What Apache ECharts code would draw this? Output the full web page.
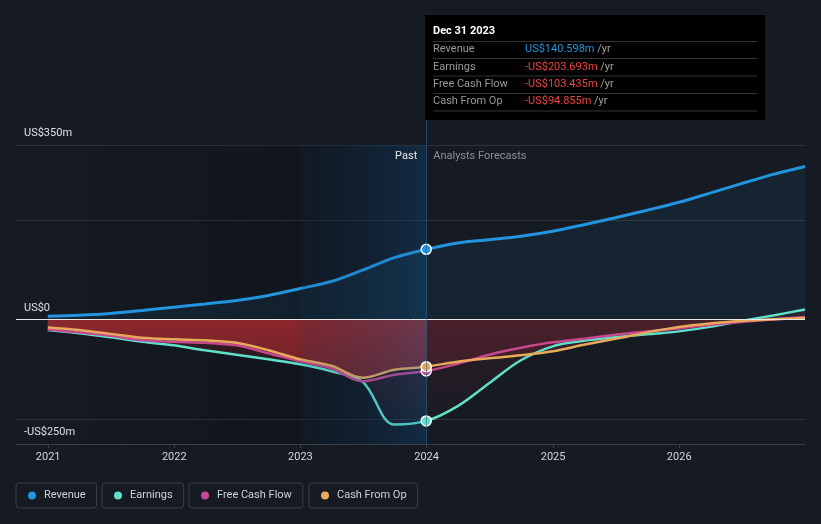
<!DOCTYPE html>
<html><head><meta charset="utf-8">
<script src="https://cdn.jsdelivr.net/npm/echarts@6/dist/echarts.min.js"></script>
<style>html,body{margin:0;padding:0;background:#151a23;}#c{width:821px;height:524px;}</style>
</head><body><div id="c"></div>
<script>
// ---- data ----
const pastDates = ['2020-12-31','2021-03-31','2021-06-30','2021-09-30','2021-12-31','2022-03-31','2022-06-30','2022-09-30','2022-12-31','2023-03-31','2023-06-30','2023-09-30','2023-12-31'];
const forecastDates = ['2023-12-31','2024-03-31','2024-06-30','2024-09-30','2024-12-31','2025-03-31','2025-06-30','2025-09-30','2025-12-31','2026-03-31','2026-06-30','2026-09-30','2026-12-31'];
const revenuePast  = [6.6, 8.5, 12, 18, 24.5, 31, 38, 48, 62, 76, 99, 124, 140.598];
const earningsPast = [-21.5, -28, -36, -45, -52, -62, -71, -80, -90, -104, -125, -211, -203.693];
const fcfPast      = [-20, -26, -33, -42, -45, -47, -52, -68, -84, -98, -124, -111, -103.435];
const cfoPast      = [-16, -21, -29, -37, -40, -42, -47, -62, -80, -93, -117, -101, -94.855];
const revenueForecast  = [140.598, 153.5, 160, 167, 177, 190, 204, 219, 235, 253.5, 272.5, 291, 307];
const earningsForecast = [-203.693, -174, -128, -82, -54, -43, -36, -30, -24, -15, -3, 8, 20];
const fcfForecast      = [-103.435, -89, -71, -57, -46, -39, -31, -24, -18, -11, -5, 0, 5];
const cfoForecast      = [-94.855, -85, -78, -72, -64, -51, -39, -26, -15, -8, -3, 0.5, 3];
const seriesNames = ['Revenue', 'Earnings', 'Free Cash Flow', 'Cash From Op'];
const xYears = [2021, 2022, 2023, 2024, 2025, 2026];
const yTickValues = [-250, 0, 350];
const yTickLabels = ['-US$250m', 'US$0', 'US$350m'];
const yGridValues = [-200, 0, 200, 350];
const xRange = ['2020-09-30', '2026-12-31'];
const bandRange = ['2023-01-01', '2024-01-01'];
const pastLabel = 'Past';
const forecastLabel = 'Analysts Forecasts';

// ---- helpers ----
const ts = d => Date.parse(d + 'T00:00:00Z');
const pts = (dates, vals) => dates.map((d, i) => [ts(d), vals[i]]);
const full = (p, f) => pts(pastDates, p).concat(pts(forecastDates, f).slice(1));
const colors = ['#2394df', '#5fe0cb', '#c8478e', '#e9a95b'];
const FONT = 'Roboto, "Noto Sans", sans-serif';
const lastDate = pastDates[pastDates.length - 1];
const SMOOTH = 0.35;

const pastSets = [revenuePast, earningsPast, fcfPast, cfoPast];
const fcSets = [revenueForecast, earningsForecast, fcfForecast, cfoForecast];

function grad(top, bottom) {
  return {type: 'linear', x: 0, y: 0, x2: 0, y2: 1, colorStops: [{offset: 0, color: top}, {offset: 1, color: bottom}]};
}
function hgrad(l, r) {
  return {type: 'linear', x: 0, y: 0, x2: 1, y2: 0, colorStops: [{offset: 0, color: l}, {offset: 1, color: r}]};
}

const series = [];
seriesNames.forEach((name, i) => {
  const last = pastSets[i][pastSets[i].length - 1];
  series.push({
    name, type: 'line', z: 3, smooth: SMOOTH,
    showSymbol: false, symbol: 'none',
    data: full(pastSets[i], fcSets[i]),
    lineStyle: {width: i === 0 ? 3 : 2.5, color: colors[i]},
    itemStyle: {color: colors[i]},
    emphasis: {disabled: true},
    markPoint: {
      silent: true, z: 6,
      symbol: 'circle', symbolSize: 10,
      itemStyle: {color: colors[i], borderColor: '#ffffff', borderWidth: 1.5},
      label: {show: false},
      data: [{coord: [ts(lastDate), last]}]
    }
  });
});
const areaCommon = {type: 'line', z: 2, smooth: SMOOTH, showSymbol: false, symbol: 'none', lineStyle: {width: 0}, emphasis: {disabled: true}, silent: true};
series.push(Object.assign({}, areaCommon, {name: 'Revenue', data: full(revenuePast, revenueForecast), itemStyle: {color: colors[0]}, areaStyle: {color: 'rgba(35,148,223,0.12)'}}));
series.push(Object.assign({}, areaCommon, {name: 'Cash From Op', data: pts(pastDates, cfoPast), itemStyle: {color: colors[3]}, areaStyle: {color: grad('rgba(205,48,52,0.8)', 'rgba(200,48,52,0.62)')}}));
series.push(Object.assign({}, areaCommon, {name: 'Earnings', data: pts(pastDates, earningsPast), itemStyle: {color: colors[1]}, areaStyle: {color: grad('rgba(195,45,50,0.32)', 'rgba(195,45,50,0.04)')}}));
series.push(Object.assign({}, areaCommon, {name: 'Cash From Op', data: pts(forecastDates, cfoForecast), itemStyle: {color: colors[3]}, areaStyle: {color: grad('rgba(180,45,55,0.3)', 'rgba(180,45,55,0.25)')}}));
series.push(Object.assign({}, areaCommon, {name: 'Earnings', data: pts(forecastDates, earningsForecast), itemStyle: {color: colors[1]}, areaStyle: {color: grad('rgba(180,45,55,0.22)', 'rgba(180,45,55,0.05)')}}));
series.push({
  type: 'line', data: [], z: 1, silent: true,
  markArea: {silent: true, z: 1, itemStyle: {color: hgrad('rgba(0,0,0,0)', 'rgba(0,0,0,0.28)')},
    data: [[{xAxis: ts(xRange[0])}, {xAxis: ts(bandRange[1])}]]},
  markLine: {silent: true, symbol: 'none', z: 5, label: {show: false},
    lineStyle: {color: '#e8e8e8', width: 1, type: 'solid'},
    data: [{yAxis: 0}]}
});
series.push({
  type: 'line', data: [], z: 4, silent: true,
  markArea: {silent: true, z: 4, itemStyle: {color: hgrad('rgba(10,60,100,0.1)', 'rgba(30,110,180,0.27)')},
    data: [[{xAxis: ts(bandRange[0])}, {xAxis: ts(bandRange[1])}]]}
});

const splitColors = [];
for (let v = -250; v <= 350; v += 50) {
  splitColors.push(yGridValues.indexOf(v) >= 0 && v !== 0 ? '#2f343c' : 'rgba(0,0,0,0)');
}

const legendLefts = [16, 102, 189, 309];
const legends = seriesNames.map((n, i) => ({
  data: [n], left: legendLefts[i], top: 483, orient: 'horizontal',
  icon: 'circle', itemWidth: 8, itemHeight: 8,
  borderColor: '#3a3f48', borderWidth: 1, borderRadius: 3,
  padding: [6, 11, 6, 12], selectedMode: false,
  textStyle: {color: '#cfd2d7', fontSize: 11, fontFamily: FONT, lineHeight: 13, padding: [0, 0, 0, 3]}
}));

const option = {
  backgroundColor: '#151a23',
  animation: false,
  grid: {left: 16, right: 16, top: 145, bottom: 80},
  xAxis: {
    type: 'value', min: ts(xRange[0]), max: ts(xRange[1]),
    splitLine: {show: false},
    axisLine: {show: true, onZero: false, lineStyle: {color: '#3a3f47', width: 1}},
    axisTick: {show: true, length: 4, lineStyle: {color: '#3a3f47'}, customValues: xYears.map(y => ts(y + '-01-01'))},
    axisLabel: {color: '#d4d7db', fontSize: 11, fontFamily: FONT, margin: 8,
      customValues: xYears.map(y => ts(y + '-01-01')),
      formatter: v => String(new Date(v).getUTCFullYear())}
  },
  yAxis: {
    type: 'value', min: -250, max: 350, interval: 50,
    axisLine: {show: false}, axisTick: {show: false},
    splitLine: {show: true, lineStyle: {color: splitColors, width: 1}},
    axisLabel: {inside: true, margin: 8, color: '#e0e2e5', fontSize: 11, fontFamily: FONT,
      verticalAlign: 'bottom', padding: [0, 0, 6, 0],
      formatter: v => { const k = yTickValues.indexOf(v); return k >= 0 ? yTickLabels[k] : ''; }}
  },
  legend: legends,
  series
};

const chart = echarts.init(document.getElementById('c'), null, {renderer: 'canvas'});
chart.setOption(option);

const x24 = chart.convertToPixel({xAxisIndex: 0}, ts(lastDate));
const yBot = chart.convertToPixel({yAxisIndex: 0}, -250);
const yTopGrid = chart.convertToPixel({yAxisIndex: 0}, 350);
const months = ['Jan','Feb','Mar','Apr','May','Jun','Jul','Aug','Sep','Oct','Nov','Dec'];
const dd = new Date(ts(lastDate));
const title = months[dd.getUTCMonth()] + ' ' + dd.getUTCDate() + ' ' + dd.getUTCFullYear();
const fmt = v => (v < 0 ? '-' : '') + 'US$' + Math.abs(v).toFixed(3) + 'm';
const boxX = Math.round(x24) - 1, boxY = 15, boxW = 340, boxH = 105;
const rowY = [49.5, 67, 84.5, 101.5];
const sepY = [41.5, 58.5, 76, 93.5, 111];
const g = [];
g.push({type: 'line', silent: true, z: 10, shape: {x1: Math.round(x24) + 0.5, y1: boxY + boxH, x2: Math.round(x24) + 0.5, y2: yBot}, style: {stroke: 'rgba(45,100,150,0.6)', lineWidth: 1}});
g.push({type: 'rect', silent: true, z: 20, shape: {x: boxX, y: boxY, width: boxW, height: boxH}, style: {fill: '#000000'}});
g.push({type: 'text', silent: true, z: 21, x: boxX + 8, y: 31, style: {text: title, fill: '#ffffff', fontSize: 11, fontWeight: 'bold', fontFamily: FONT, verticalAlign: 'middle'}});
sepY.forEach(y => g.push({type: 'line', silent: true, z: 21, shape: {x1: boxX + 8, y1: y, x2: boxX + boxW - 8, y2: y}, style: {stroke: '#333333', lineWidth: 1}}));
seriesNames.forEach((n, i) => {
  const v = pastSets[i][pastSets[i].length - 1];
  g.push({type: 'text', silent: true, z: 21, x: boxX + 8, y: rowY[i], style: {text: n, fill: '#9a9a9a', fontSize: 11, fontFamily: FONT, verticalAlign: 'middle'}});
  g.push({type: 'text', silent: true, z: 21, x: boxX + 100, y: rowY[i], style: {
    text: '{v|' + fmt(v) + '} {u|/yr}', verticalAlign: 'middle', fontSize: 11, fontFamily: FONT,
    rich: {v: {fill: v < 0 ? '#ef4242' : colors[0], fontSize: 11, fontFamily: FONT}, u: {fill: '#a0a0a0', fontSize: 11, fontFamily: FONT}}}});
});
g.push({type: 'text', silent: true, z: 21, x: x24 - 9, y: yTopGrid + 11, style: {text: pastLabel, fill: '#e8e8e8', fontSize: 11, fontFamily: FONT, align: 'right', verticalAlign: 'middle'}});
g.push({type: 'text', silent: true, z: 21, x: x24 + 7, y: yTopGrid + 11, style: {text: forecastLabel, fill: '#8b9097', fontSize: 11, fontFamily: FONT, align: 'left', verticalAlign: 'middle'}});
chart.setOption({graphic: g});
</script>
</body></html>
